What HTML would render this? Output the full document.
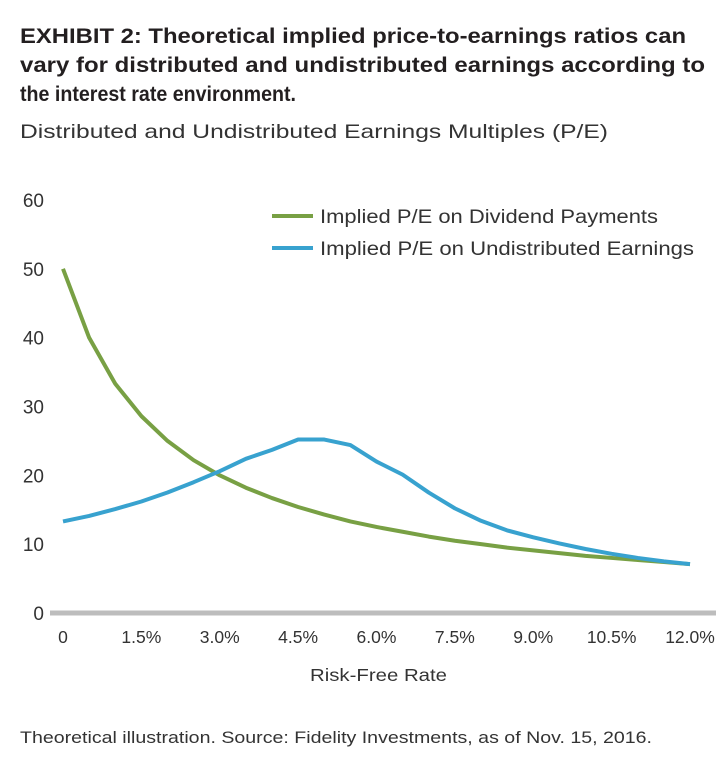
<!DOCTYPE html>
<html><head><meta charset="utf-8"><style>
body{margin:0;background:#fff;width:728px;height:779px;overflow:hidden;font-family:"Liberation Sans",sans-serif;color:#231f20}
svg{position:absolute;left:0;top:0;font-family:"Liberation Sans",sans-serif}
</style></head><body>
<svg width="728" height="779" id="c">
<g font-weight="bold" font-size="21" fill="#231f20">
<text x="20" y="43" textLength="666" lengthAdjust="spacingAndGlyphs">EXHIBIT 2: Theoretical implied price-to-earnings ratios can</text>
<text x="20" y="72" textLength="685" lengthAdjust="spacingAndGlyphs">vary for distributed and undistributed earnings according to</text>
<text x="20" y="101" textLength="276" lengthAdjust="spacingAndGlyphs">the interest rate environment.</text>
</g>
<text x="20" y="138" font-size="19.5" fill="#333" textLength="588" lengthAdjust="spacingAndGlyphs">Distributed and Undistributed Earnings Multiples (P/E)</text>
<text x="20" y="743" font-size="17" fill="#333" textLength="632" lengthAdjust="spacingAndGlyphs">Theoretical illustration. Source: Fidelity Investments, as of Nov. 15, 2016.</text>
</svg>
<script>
const rates=[0,0.5,1,1.5,2,2.5,3,3.5,4,4.5,5,5.5,6,6.5,7,7.5,8,8.5,9,9.5,10,10.5,11,11.5,12];
const dividendPE=[50,40,33.3,28.6,25,22.2,20,18.2,16.7,15.4,14.3,13.3,12.5,11.8,11.1,10.5,10,9.5,9.1,8.7,8.3,8,7.7,7.4,7.1];
const undistPE=[13.3,14.1,15.1,16.2,17.5,19,20.6,22.4,23.7,25.2,25.2,24.4,22,20.1,17.5,15.2,13.4,12,11,10.1,9.3,8.6,8,7.5,7.1];
const yTicks=[0,10,20,30,40,50,60];
const xTicks=[0,1.5,3,4.5,6,7.5,9,10.5,12];
const xLabels=["0","1.5%","3.0%","4.5%","6.0%","7.5%","9.0%","10.5%","12.0%"];
const X=v=>63+v*(690-63)/12, Y=v=>613-v*(413/60);
const svg=document.getElementById('c'),NS='http://www.w3.org/2000/svg';
function mk(t,a,txt){const e=document.createElementNS(NS,t);for(const k in a)e.setAttribute(k,a[k]);if(txt!=null)e.textContent=txt;svg.appendChild(e);return e;}
yTicks.forEach(v=>{const e=mk('text',{x:44,y:Y(v)+7,'text-anchor':'end','font-size':19,fill:'#333'},v);

});
xTicks.forEach((v,i)=>{const e=mk('text',{x:X(v),y:643,'text-anchor':'middle','font-size':17.5,fill:'#333'},xLabels[i]);

});
const ax=mk('line',{x1:50,x2:716,y1:Y(0),y2:Y(0),stroke:'#bdbdbd','stroke-width':5});


const xt=mk('text',{x:310,y:681,'font-size':17.5,fill:'#333',textLength:137,lengthAdjust:'spacingAndGlyphs'},'Risk-Free Rate');


function line(vals,col,name){const p=mk('polyline',{points:rates.map((r,i)=>X(r)+','+Y(vals[i])).join(' '),fill:'none',stroke:col,'stroke-width':4,'stroke-linejoin':'round'});

}
line(dividendPE,'#78a044','dividend-pe-line');
line(undistPE,'#38a2cf','undistributed-pe-line');
[['#78a044','Implied P/E on Dividend Payments',216,338],['#38a2cf','Implied P/E on Undistributed Earnings',248,374]].forEach(d=>{
const l=mk('line',{x1:272,x2:313,y1:d[2],y2:d[2],stroke:d[0],'stroke-width':4});


const t=mk('text',{x:320,y:d[2]+7,'font-size':19,fill:'#333',textLength:d[3],lengthAdjust:'spacingAndGlyphs'},d[1]);

});
</script>
</body></html>
